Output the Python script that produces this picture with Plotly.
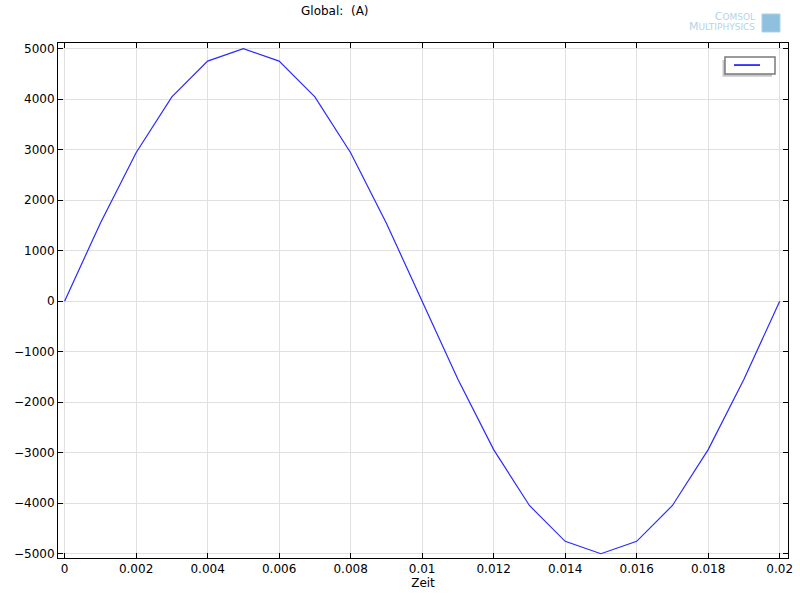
import plotly.graph_objects as go

zeit = [0.0, 0.001, 0.002, 0.003, 0.004, 0.005, 0.006, 0.007, 0.008, 0.009, 0.010,
        0.011, 0.012, 0.013, 0.014, 0.015, 0.016, 0.017, 0.018, 0.019, 0.020]
strom = [0, 1545, 2939, 4045, 4755, 5000, 4755, 4045, 2939, 1545, 0,
         -1545, -2939, -4045, -4755, -5000, -4755, -4045, -2939, -1545, 0]
x_ticks = [0, 0.002, 0.004, 0.006, 0.008, 0.01, 0.012, 0.014, 0.016, 0.018, 0.02]
x_tick_labels = ["0", "0.002", "0.004", "0.006", "0.008", "0.01", "0.012", "0.014", "0.016", "0.018", "0.02"]
y_ticks = [-5000, -4000, -3000, -2000, -1000, 0, 1000, 2000, 3000, 4000, 5000]

FONT = "DejaVu Sans"

fig = go.Figure()
fig.add_trace(go.Scatter(x=zeit, y=strom, mode="lines",
                         line=dict(color="#2a2aff", width=1.2), showlegend=False))

axis_common = dict(showline=True, linecolor="black", linewidth=1, mirror="ticks",
                   ticks="inside", ticklen=5, tickcolor="black", tickwidth=1,
                   showgrid=True, gridcolor="#e0e0e0", gridwidth=1, zeroline=False,
                   automargin=False,
                   tickfont=dict(family=FONT, size=12, color="black"))

fig.update_xaxes(range=[-0.000184, 0.020232], tickvals=x_ticks, ticktext=x_tick_labels,
                 title=dict(text="Zeit", font=dict(family=FONT, size=12, color="black"), standoff=2),
                 **axis_common)
fig.update_yaxes(range=[-5085, 5113], tickvals=y_ticks,
                 **axis_common)

# legend box (line sample only, with shadow)
fig.add_shape(type="rect", xref="paper", yref="paper", x0=0.9103, x1=0.9781, y0=0.967, y1=0.9346,
              fillcolor="#c8c8c8", line=dict(width=0), layer="above")
fig.add_shape(type="rect", xref="paper", yref="paper", x0=0.9137, x1=0.9822, y0=0.9728, y1=0.9398,
              fillcolor="white", line=dict(color="#7a7a7a", width=1.5), layer="above")
fig.add_shape(type="line", xref="paper", yref="paper", x0=0.926, x1=0.9616, y0=0.9572, y1=0.9572,
              line=dict(color="blue", width=1.5), layer="above")

# logo
fig.add_annotation(xref="paper", yref="paper", x=0.9575, y=1.041, xanchor="right", yanchor="middle",
                   align="right",
                   text=("<span style='font-size:11px'>C</span><span style='font-size:9px'>OMSOL</span><br>"
                         "<span style='font-size:11px'>M</span><span style='font-size:9px'>ULTIPHYSICS</span>"),
                   showarrow=False,
                   font=dict(family=FONT, size=8, color="#b4d4e6"))
fig.add_shape(type="rect", xref="paper", yref="paper", x0=0.9644, x1=0.989, y0=1.0563, y1=1.0214,
              fillcolor="#8fc0de", line=dict(color="#a8d0e8", width=1), layer="above")

# title
fig.add_annotation(xref="paper", yref="paper", x=0.3795, y=1.062, xanchor="center", yanchor="middle",
                   text="Global:  (A)", showarrow=False,
                   font=dict(family=FONT, size=12, color="black"))

fig.update_layout(
    width=800, height=600,
    margin=dict(l=58, r=12, t=43, b=42),
    paper_bgcolor="white", plot_bgcolor="white",
    showlegend=False,
)

fig.write_html("out.html", config={"displayModeBar": False})

# remove default page margin so the 800x600 figure fills the window exactly
with open("out.html", "r", encoding="utf-8") as f:
    html = f.read()
html = html.replace("<head>", "<head><style>html,body{margin:0;padding:0;overflow:hidden}</style>", 1)
with open("out.html", "w", encoding="utf-8") as f:
    f.write(html)
